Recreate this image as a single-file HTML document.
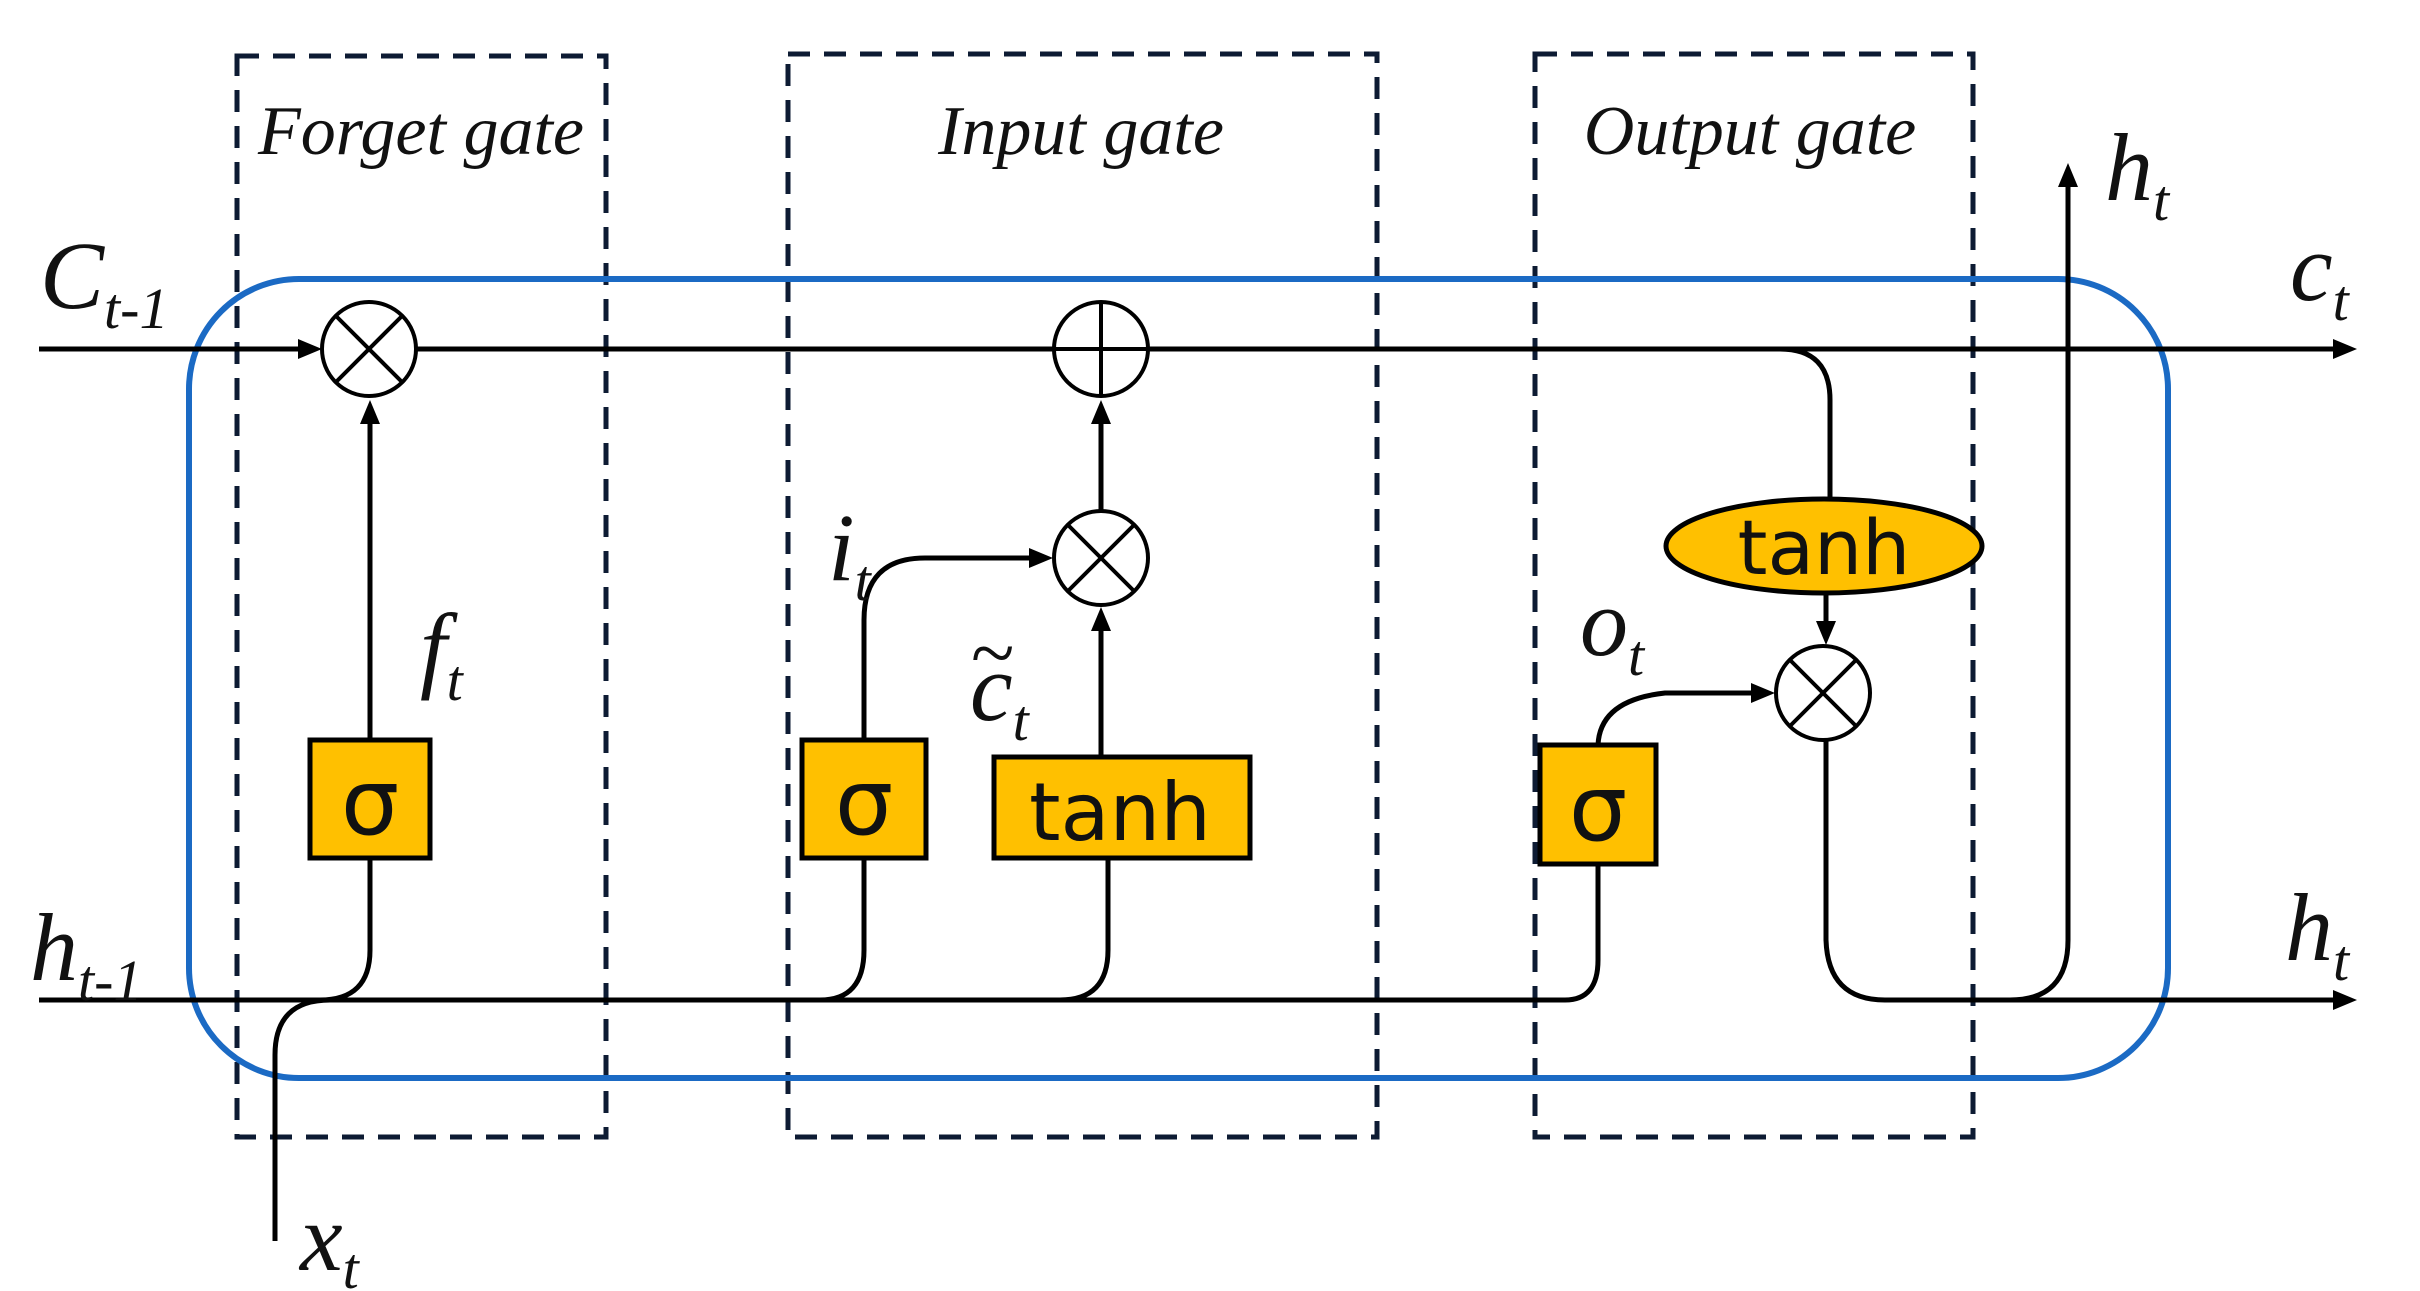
<!DOCTYPE html>
<html><head><meta charset="utf-8"><style>
html,body{margin:0;padding:0;background:#fff;}
svg{display:block;}
text{font-family:"Liberation Serif",serif;font-style:italic;fill:#111;}
.sans{font-family:"DejaVu Sans","Liberation Sans",sans-serif;font-style:normal;}
</style></head><body>
<svg width="2420" height="1291" viewBox="0 0 2420 1291" xmlns="http://www.w3.org/2000/svg">
<g fill="none" stroke="#0d1b33" stroke-width="5" stroke-dasharray="22 14">
<rect x="237" y="56" width="369" height="1081"/>
<rect x="788" y="54" width="589" height="1083"/>
<rect x="1535" y="54" width="438" height="1083"/>
</g>
<rect x="189" y="279" width="1979" height="799" rx="110" ry="110" fill="none" stroke="#1b6ac4" stroke-width="6"/>

<g fill="none" stroke="#000" stroke-width="5">
<line x1="39" y1="349" x2="305" y2="349"/>
<line x1="416" y1="349" x2="1054" y2="349"/>
<line x1="1148" y1="349" x2="2335" y2="349"/>
<line x1="370" y1="740" x2="370" y2="415"/>
<line x1="39" y1="1000" x2="1565" y2="1000"/>
<path d="M1565 1000 Q1598 1000 1598 960 L1598 864"/>
<line x1="1885" y1="1000" x2="2335" y2="1000"/>
<path d="M320 1000 Q370 1000 370 950 L370 858"/>
<path d="M820 1000 Q864 1000 864 950 L864 858"/>
<path d="M1060 1000 Q1108 1000 1108 950 L1108 858"/>
<path d="M275 1241 L275 1055 Q275 1000 330 1000"/>
<path d="M864 740 L864 620 Q864 558 925 558 L1036 558"/>
<line x1="1101" y1="757" x2="1101" y2="624"/>
<line x1="1101" y1="511" x2="1101" y2="415"/>
<path d="M1598 745 Q1600 700 1665 693 L1758 693"/>
<path d="M1780 349 Q1830 349 1830 400 L1830 499"/>
<line x1="1826" y1="593" x2="1826" y2="630"/>
<path d="M1826 740 L1826 940 Q1828 1000 1885 1000"/>
<path d="M2010 1000 Q2068 1000 2068 940 L2068 180"/>
</g>
<g fill="#000">
<polygon points="322,349 298,339 298,359"/>
<polygon points="370,400 360,424 380,424"/>
<polygon points="1101,400 1091,424 1111,424"/>
<polygon points="1101,607 1091,631 1111,631"/>
<polygon points="1053,558 1029,548 1029,568"/>
<polygon points="1775,693 1751,683 1751,703"/>
<polygon points="1826,645 1816,621 1836,621"/>
<polygon points="2357,349 2333,339 2333,359"/>
<polygon points="2357,1000 2333,990 2333,1010"/>
<polygon points="2068,163 2058,187 2078,187"/>
</g>
<g fill="#fff" stroke="#000" stroke-width="4">
<circle cx="369" cy="349" r="47"/>
<circle cx="1101" cy="349" r="47"/>
<circle cx="1101" cy="558" r="47"/>
<circle cx="1823" cy="693" r="47"/>
</g>
<g stroke="#000" stroke-width="4">
<line x1="336" y1="316" x2="402" y2="382"/><line x1="402" y1="316" x2="336" y2="382"/>
<line x1="1054" y1="349" x2="1148" y2="349"/><line x1="1101" y1="302" x2="1101" y2="396"/>
<line x1="1068" y1="525" x2="1134" y2="591"/><line x1="1134" y1="525" x2="1068" y2="591"/>
<line x1="1790" y1="660" x2="1856" y2="726"/><line x1="1856" y1="660" x2="1790" y2="726"/>
</g>
<g fill="#ffc000" stroke="#000" stroke-width="5">
<rect x="310" y="740" width="120" height="118"/>
<rect x="802" y="740" width="124" height="118"/>
<rect x="994" y="757" width="256" height="101"/>
<rect x="1540" y="745" width="116" height="119"/>
<ellipse cx="1824" cy="546" rx="158" ry="47"/>
</g>
<g text-anchor="middle">
<text class="sans" x="370" y="834" font-size="92">σ</text>
<text class="sans" x="864" y="834" font-size="92">σ</text>
<text class="sans" x="1598" y="840" font-size="92">σ</text>
<text class="sans" x="1120" y="840" font-size="80">tanh</text>
<text class="sans" x="1824" y="574" font-size="76">tanh</text>
</g>
<g font-size="70" text-anchor="middle">
<text x="421" y="154">Forget gate</text>
<text x="1081" y="154">Input gate</text>
<text x="1750" y="154">Output gate</text>
</g>
<text x="40" y="308" font-size="96">C<tspan font-size="58" dy="20">t-1</tspan></text>
<text x="30" y="980" font-size="96">h<tspan font-size="58" dy="20">t-1</tspan></text>
<text x="300" y="1270" font-size="96">x<tspan font-size="58" dy="18">t</tspan></text>
<text x="420" y="680" font-size="96">f<tspan font-size="58" dy="20">t</tspan></text>
<text x="828" y="580" font-size="96">i<tspan font-size="58" dy="20">t</tspan></text>
<text x="970" y="720" font-size="96">c<tspan font-size="58" dy="20">t</tspan></text>
<text x="970" y="680" font-size="80">~</text>
<text x="1580" y="655" font-size="96">o<tspan font-size="58" dy="20">t</tspan></text>
<text x="2105" y="200" font-size="96">h<tspan font-size="58" dy="20">t</tspan></text>
<text x="2290" y="300" font-size="96">c<tspan font-size="58" dy="20">t</tspan></text>
<text x="2285" y="960" font-size="96">h<tspan font-size="58" dy="20">t</tspan></text>
</svg>
</body></html>
